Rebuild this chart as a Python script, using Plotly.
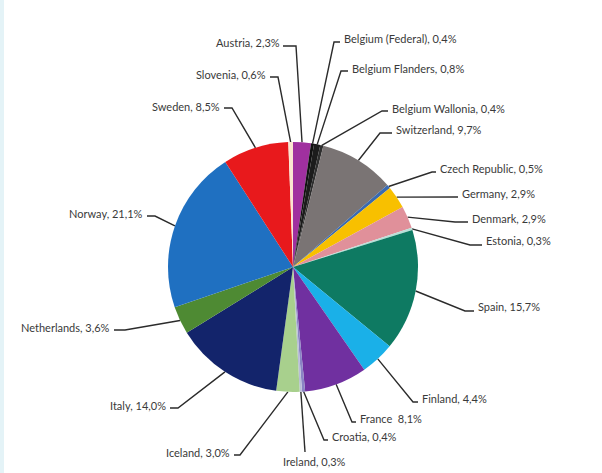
import math
import plotly.graph_objects as go

# ---- data ----
countries = ["Austria", "Belgium (Federal)", "Belgium Flanders", "Belgium Wallonia",
             "Switzerland", "Czech Republic", "Germany", "Denmark", "Estonia", "Spain",
             "Finland", "France", "Croatia", "Ireland", "Iceland", "Italy",
             "Netherlands", "Norway", "Sweden", "Slovenia"]
shares = [2.3, 0.4, 0.8, 0.4, 9.7, 0.5, 2.9, 2.9, 0.3, 15.7,
          4.4, 8.1, 0.4, 0.3, 3.0, 14.0, 3.6, 21.1, 8.5, 0.6]
label_texts = ["Austria, 2,3%", "Belgium (Federal), 0,4%", "Belgium Flanders, 0,8%",
               "Belgium Wallonia, 0,4%", "Switzerland, 9,7%", "Czech Republic, 0,5%",
               "Germany, 2,9%", "Denmark, 2,9%", "Estonia, 0,3%", "Spain, 15,7%",
               "Finland, 4,4%", "France  8,1%", "Croatia, 0,4%", "Ireland, 0,3%",
               "Iceland, 3,0%", "Italy, 14,0%", "Netherlands, 3,6%", "Norway, 21,1%",
               "Sweden, 8,5%", "Slovenia, 0,6%"]

# ---- styles ----
colors = ["#a0309f", "#111111", "#1c1c1c", "#2e2e2e", "#7a7474", "#3a6ab0",
          "#f8c000", "#e0909a", "#b8e0d8", "#0e7a62", "#1ab0e8", "#7030a0",
          "#8a84c4", "#b8bcd8", "#a8d08d", "#13246b", "#4e8a33", "#1f70c1",
          "#e8191c", "#fbe5d0"]

W, H = 602, 473
CX, CY, R = 293, 267, 125

# label layout: (text x, text y, xanchor, line start x, line start y, elbow x, elbow y)
label_layout = [
    (282, 42, "right", 283, 46, 296, 46),
    (342, 38, "left", 340, 42, 334, 42),
    (350, 68, "left", 348, 71, 341, 71),
    (390, 108, "left", 388, 111, 382, 111),
    (394, 129, "left", 392, 133, 380, 133),
    (438, 168, "left", 436, 172, 432, 172),
    (460, 193, "left", 458, 197, 440, 197),
    (470, 218, "left", 468, 222, 455, 222),
    (484, 240, "left", 482, 245, 470, 245),
    (476, 306, "left", 474, 311, 465, 311),
    (420, 398, "left", 418, 402, 413, 402),
    (358, 418, "left", 356, 422, 352, 422),
    (330, 436, "left", 328, 440, 324, 440),
    (314, 461, "center", 305, 452, 305, 452),
    (232, 452, "right", 234, 455, 240, 455),
    (168, 405, "right", 170, 408, 178, 408),
    (112, 327, "right", 114, 330, 125, 330),
    (145, 213, "right", 147, 216, 155, 216),
    (222, 106, "right", 224, 108, 232, 108),
    (268, 74, "right", 270, 77, 278, 77),
]

fig = go.Figure()
fig.add_trace(go.Pie(
    labels=countries, values=shares, sort=False, direction="clockwise", rotation=0,
    marker=dict(colors=colors, line=dict(width=0)),
    textinfo="none", hoverinfo="label+percent", showlegend=False,
    domain=dict(x=[(CX - R) / W, (CX + R) / W], y=[(H - CY - R) / H, (H - CY + R) / H]),
))

total = sum(shares)
cum = 0.0
annotations = []
for name, val, txt, lay in zip(countries, shares, label_texts, label_layout):
    mid = (cum + val / 2) / total * 2 * math.pi
    cum += val
    ex = CX + R * math.sin(mid)
    ey = CY - R * math.cos(mid)
    tx, ty, anchor, lx, ly, bx, by = lay
    fig.add_trace(go.Scatter(
        x=[lx, bx, ex], y=[ly, by, ey], mode="lines",
        line=dict(color="#2b2b2b", width=1.4), hoverinfo="skip", showlegend=False,
    ))
    annotations.append(dict(
        x=tx, y=ty, xref="x", yref="y", text=txt, showarrow=False,
        xanchor=anchor, yanchor="middle",
        font=dict(family="Lato, sans-serif", size=11, color="#3a3a3a"),
    ))

fig.update_layout(
    width=W, height=H, margin=dict(l=0, r=0, t=0, b=0),
    paper_bgcolor="white", plot_bgcolor="rgba(0,0,0,0)",
    xaxis=dict(range=[0, W], visible=False, fixedrange=True),
    yaxis=dict(range=[H, 0], visible=False, fixedrange=True),
    annotations=annotations,
    shapes=[dict(type="rect", xref="paper", yref="paper", x0=0, x1=4 / W, y0=0, y1=1,
                 fillcolor="#e4f3f7", line=dict(width=0), layer="below")],
)

fig.write_html("out.html")
